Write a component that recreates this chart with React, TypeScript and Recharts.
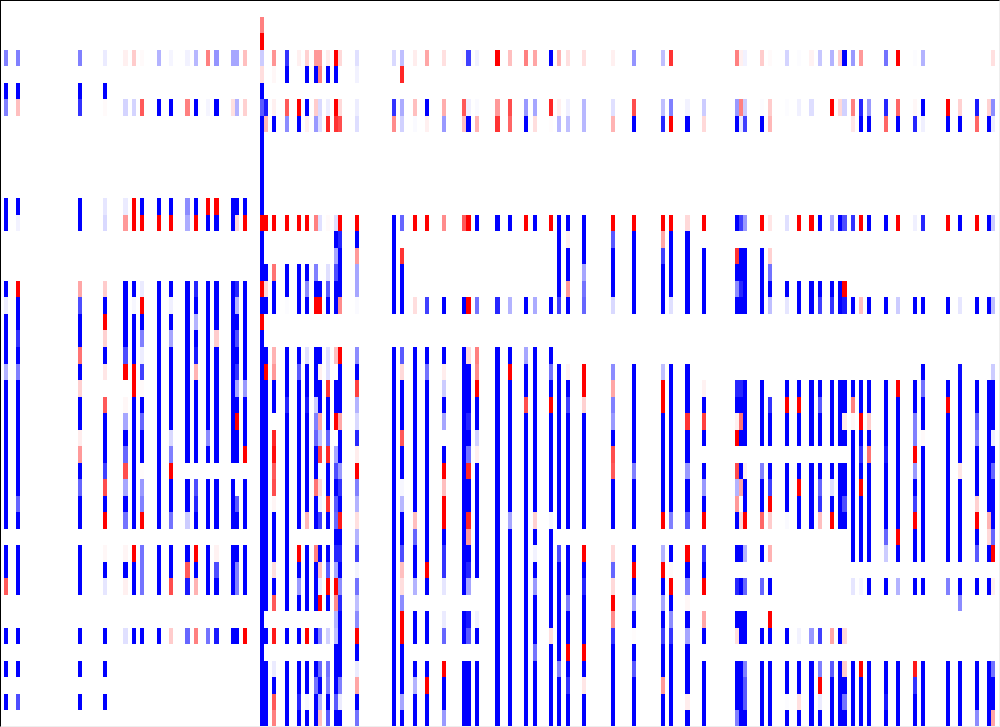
import React from 'react';
import { ScatterChart, Scatter, XAxis, YAxis } from 'recharts';

const WIDTH = 1000;
const HEIGHT = 727;
const COLUMN_COUNT = 242;
const ROW_COUNT = 44;

// each run is [first row, last row, value], value goes from -1 (blue) to 1 (red)
type Run = number[];

const c1: Run[] = [[3,3,-.5],[5,5,-1],[6,6,-.5],[12,13,-1],[17,17,-1],[18,18,-.07],[19,21,-1],[22,22,-.3],[23,31,-1],[33,34,-1],[35,35,.65],[38,38,-1],[40,40,-1],[42,42,-1]];
const c4: Run[] = [[3,3,-.5],[5,5,-1],[6,6,.25],[12,12,-1],[13,13,-.05],[17,17,1],[18,19,-1],[20,20,-.8],[21,21,-1],[22,22,-.5],[23,29,-1],[30,30,-.6],[31,31,-1],[33,35,-1],[38,38,-1],[40,40,-1],[42,42,-.7]];
const c19: Run[] = [[3,3,-.5],[5,5,-1],[6,6,-.8],[12,13,-1],[17,17,.35],[18,18,-.7],[19,20,-1],[21,21,.55],[22,22,-1],[23,23,.18],[24,25,-1],[26,26,.07],[27,27,.4],[28,28,-1],[29,29,-.6],[30,31,-1],[33,35,-1],[38,38,-1],[40,40,-1],[42,42,-1]];
const c25: Run[] = [[3,3,-.08],[5,5,-1],[6,6,.02],[12,12,-.1],[13,13,-.15],[17,17,.2],[18,18,-1],[19,19,1],[20,20,.18],[21,21,-1],[22,22,.1],[24,24,.65],[25,27,-1],[28,28,-.75],[29,29,.7],[30,30,-1],[31,31,1],[33,33,.03],[34,34,-1],[35,35,-.1],[38,38,-1],[40,40,-1],[42,42,-1]];
const c30: Run[] = [[3,3,.06],[6,6,-.17],[12,12,-.08],[13,13,.4],[17,20,-1],[21,21,-.7],[22,22,1],[24,24,.03],[25,25,-.35],[26,26,-1],[27,27,-.6],[28,28,.7],[29,29,-.35],[30,30,-1],[31,31,-.55],[33,33,.04],[34,34,-1],[35,35,.06],[38,38,-.12]];
const c32: Run[] = [[3,3,.2],[6,6,-.17],[12,13,1],[17,17,-1],[18,18,-.03],[19,21,-1],[22,23,1],[24,31,-1],[33,33,1],[34,35,-1],[38,38,-1]];
const c34: Run[] = [[3,3,.02],[6,6,.65],[12,12,-1],[13,13,1],[17,17,-.08],[18,18,1],[19,19,-1],[20,20,-.5],[21,21,-.07],[22,22,-.75],[23,23,.02],[24,24,-1],[25,25,-.6],[26,27,-1],[28,28,.01],[29,29,-.4],[30,30,-.5],[31,31,1],[33,35,-.55],[38,38,-1]];
const c38: Run[] = [[3,3,-.3],[6,6,-1],[12,12,-1],[13,13,1],[17,31,-1],[33,35,-1],[38,38,-1]];
const c41: Run[] = [[3,3,-.04],[6,6,-1],[12,12,-1],[13,13,1],[17,17,-1],[18,18,-.06],[19,19,-1],[20,20,-.35],[21,25,-1],[26,26,-.15],[27,27,-.5],[28,28,1],[29,30,-1],[31,31,-.55],[33,34,-1],[35,35,.7],[38,38,.2]];
const c45: Run[] = [[3,3,-.05],[6,6,.5],[12,12,-.45],[13,13,-.32],[17,27,-1],[29,30,-1],[31,31,-.2],[33,33,-1],[34,34,.65],[35,35,-.9],[38,38,-.6]];
const c47: Run[] = [[3,3,-.28],[6,6,-1],[12,12,-1],[13,13,1],[17,17,-.85],[18,18,-1],[19,19,-.3],[20,20,-1],[21,21,-.9],[22,22,.3],[23,27,-1],[29,29,-.7],[30,30,-.85],[31,31,-1],[33,33,1],[34,34,-1],[35,35,.3],[38,38,.5]];
const c50: Run[] = [[3,3,.5],[6,6,-.04],[12,12,1],[13,13,-1],[17,25,-1],[26,26,-.45],[27,27,-1],[29,31,-1],[33,35,-1],[38,38,-.55]];
const c52: Run[] = [[3,3,-.42],[6,6,-1],[12,12,1],[13,13,-1],[17,19,-1],[20,20,.2],[21,27,-1],[29,31,-1],[33,33,.05],[34,34,-.7],[35,35,-1],[38,38,-.9]];
const c56: Run[] = [[3,3,-.35],[6,6,.12],[12,13,-1],[17,27,-1],[29,31,-1],[33,35,-1],[38,38,-1]];
const c57: Run[] = [[3,3,-.35],[6,6,-.3],[12,12,-1],[13,13,.15],[17,17,-.85],[18,18,-.3],[19,19,-1],[20,20,-.7],[21,21,-1],[22,22,-.8],[23,23,-.35],[24,24,-1],[25,25,1],[26,27,-1],[30,30,-.65],[31,31,-1],[33,33,-1],[34,35,-.5],[38,38,-1]];
const c59: Run[] = [[3,3,.25],[6,6,.18],[12,12,-1],[13,13,1],[17,22,-1],[23,23,-.4],[24,26,-1],[27,27,1],[29,31,-1],[33,35,-1],[38,38,1]];
const c63: Run[] = [[1,1,.5],[2,2,1],[3,3,-.2],[4,4,.13],[5,5,-1],[6,6,-.65],[7,12,-1],[13,13,1],[14,16,-1],[17,17,1],[18,18,-1],[19,19,1],[20,43,-1]];
const c64: Run[] = [[6,6,-.9],[7,7,.28],[13,13,1],[16,16,-1],[17,17,.15],[18,18,-1],[21,21,-1],[22,22,1],[23,36,-1],[38,38,-1],[40,43,-1]];
const c66: Run[] = [[3,3,.42],[4,4,.03],[6,6,.06],[7,7,-1],[13,13,1],[16,16,.55],[17,18,-1],[21,21,.3],[22,22,.4],[23,24,-1],[26,26,.85],[27,27,.95],[28,28,.65],[29,29,.7],[30,30,.04],[31,33,-1],[34,34,.13],[35,35,-1],[36,36,.65],[38,38,.9],[40,40,-.08],[41,41,-1],[42,42,.65],[43,43,.5]];
const c69: Run[] = [[3,3,-.8],[4,4,-1],[6,6,.65],[7,7,-.45],[13,13,1],[16,17,-1],[18,18,-.01],[21,23,-1],[24,24,-.85],[25,36,-1],[38,38,-1],[40,43,-1]];
const c72: Run[] = [[3,3,.06],[6,6,1],[7,7,-1],[13,13,1],[16,18,-1],[21,21,-1],[22,22,-.65],[23,31,-1],[33,33,1],[34,34,-1],[35,35,-.4],[36,36,-1],[38,38,-1],[40,41,-1],[42,42,-.85],[43,43,-1]];
const c74: Run[] = [[3,3,.18],[4,4,-1],[6,6,-1],[7,7,.06],[13,13,1],[16,16,-1],[17,17,-.45],[18,18,-1],[21,21,-.12],[22,23,-1],[24,24,-.9],[25,30,-1],[31,31,.28],[33,36,-1],[38,38,1],[40,41,-1],[42,42,-.03],[43,43,-1]];
const c76: Run[] = [[3,3,.4],[4,4,-1],[6,6,.2],[7,7,-.4],[13,13,.5],[16,16,-.5],[17,17,-1],[18,18,1],[21,23,-1],[24,24,-.2],[25,25,-.5],[26,26,-.6],[27,28,-1],[29,29,.55],[30,31,-1],[33,33,.5],[34,36,-1],[38,38,-1],[40,40,-1],[41,41,-.55],[42,43,-1]];
const c77: Run[] = [[3,3,.4],[4,4,.5],[6,6,-.15],[7,7,-.12],[13,13,-.12],[17,17,-1],[18,18,1],[21,21,-1],[22,22,.06],[23,24,-1],[25,25,.35],[26,26,-.25],[27,27,.75],[28,28,.01],[29,29,.15],[30,30,-.05],[31,31,-.75],[33,33,-1],[34,34,.25],[35,35,-.08],[36,36,1],[38,38,-.5],[40,40,-.6],[41,41,-1],[42,42,-.3],[43,43,.25]];
const c79: Run[] = [[3,3,.07],[4,4,-1],[6,6,-.07],[7,7,.85],[13,13,.02],[16,16,-.12],[17,17,-.65],[18,18,-1],[21,22,-.12],[23,23,.8],[24,25,-1],[26,26,-.6],[27,27,.85],[28,29,-1],[30,30,.8],[31,31,-1],[33,33,-1],[34,34,-.65],[35,35,1],[36,36,-1],[38,38,-.18],[40,40,-.55],[41,41,-.5],[42,42,-1],[43,43,-.65]];
const c81: Run[] = [[3,3,1],[4,4,-1],[6,6,1],[7,7,.8],[13,13,-.12],[14,14,-1],[15,15,-.35],[16,16,-.7],[17,18,-1],[21,21,.25],[23,24,-1],[25,25,1],[27,27,-.35],[28,28,-.7],[29,29,-1],[30,30,-.65],[31,31,-.6],[32,32,-1],[33,33,-.85],[34,34,-.35],[35,35,1],[36,36,.45],[37,37,-.3],[38,38,-.25],[39,41,-1],[42,42,-.65],[43,43,-1]];
const c82: Run[] = [[3,3,.15],[6,6,.15],[7,7,.7],[13,13,1],[14,14,-.85],[15,17,-1],[18,18,.45],[21,21,1],[22,24,-1],[25,25,.35],[26,27,-1],[28,28,-.4],[29,29,-.8],[30,30,-1],[31,31,.9],[32,32,-1],[33,33,-.85],[34,34,-1],[35,35,-.45],[36,36,-.85],[37,40,-1],[41,41,-.5],[42,42,-.08],[43,43,-1]];
const c86: Run[] = [[3,3,-.12],[4,4,-.05],[6,6,-.07],[7,7,-.13],[13,13,1],[14,14,-1],[15,15,.4],[16,17,-.35],[18,18,-.02],[21,21,-.45],[22,22,-1],[23,23,.75],[24,24,-.3],[25,25,-.15],[26,26,-.85],[27,27,.07],[28,28,1],[29,29,-.5],[30,30,-.3],[31,31,.12],[32,32,-.3],[33,33,-.75],[34,34,-.05],[35,35,-.55],[36,36,-.25],[37,37,-.45],[38,38,1],[39,39,-1],[40,40,-.08],[41,41,.35],[42,42,-1],[43,43,-.55]];
const c95: Run[] = [[3,3,-.15],[6,6,-.8],[7,7,.45],[13,18,-1],[21,43,-1]];
const c97: Run[] = [[3,3,-.25],[4,4,.85],[6,6,-.33],[7,7,-.18],[13,13,-.6],[15,15,.8],[16,18,-1],[21,21,-.65],[22,22,.15],[23,25,-1],[26,26,.65],[27,28,-1],[29,29,-.03],[30,30,-.28],[31,32,-1],[33,33,-.7],[34,34,.25],[35,35,.13],[36,36,-.45],[37,38,1],[39,41,-1],[42,42,-.35],[43,43,-1]];
const c100: Run[] = [[3,3,.07],[6,6,.25],[7,7,-.02],[13,13,1],[18,18,.13],[21,30,-1],[31,31,.25],[32,32,-.6],[33,34,-1],[35,35,-.3],[37,38,-1],[40,40,-1],[41,41,-.3],[42,43,-1]];
const c103: Run[] = [[3,3,.35],[6,6,-1],[7,7,.06],[13,13,1],[18,18,-.75],[21,21,-1],[22,22,-.55],[23,33,-1],[34,34,1],[35,35,-1],[37,38,-1],[40,40,-1],[41,41,1],[42,43,-1]];
const c107: Run[] = [[3,3,.12],[6,6,.32],[7,7,-.4],[13,13,.45],[18,18,-1],[21,21,-1],[22,22,.07],[23,23,-.2],[24,24,-1],[25,25,-.35],[27,27,-1],[28,28,1],[29,29,.25],[30,31,1],[32,32,-1],[33,34,-.8],[35,35,-.1],[37,37,-.08],[38,38,-.6],[40,40,1],[41,42,-1],[43,43,-.4]];
const c112: Run[] = [[3,3,.02],[6,6,.65],[7,7,.25],[13,13,.65],[18,18,-1],[21,35,-1],[37,38,-1],[40,43,-1]];
const c113: Run[] = [[3,3,-.75],[6,6,-.06],[7,7,-1],[13,13,1],[18,18,1],[21,21,.15],[22,24,-1],[25,25,-.85],[26,26,-1],[27,27,-.55],[28,28,.85],[29,30,-1],[31,31,.85],[32,32,.4],[33,33,-1],[34,34,-.85],[35,35,-.35],[37,37,-.9],[38,38,-.65],[40,43,-1]];
const c115: Run[] = [[3,3,-.05],[6,6,-.02],[7,7,.3],[13,13,-1],[18,18,-.55],[21,21,.5],[22,22,.45],[23,23,1],[24,25,-1],[26,26,-.18],[27,27,.06],[28,34,-1],[37,37,-.05],[38,38,-1],[40,43,-1]];
const c120: Run[] = [[3,3,1],[6,6,.4],[7,7,.8],[13,13,-1],[18,18,-.85],[21,43,-1]];
const c123: Run[] = [[3,3,.25],[6,6,.7],[7,7,.6],[13,13,-1],[18,18,-.3],[21,21,-1],[22,22,1],[23,30,-1],[31,31,-.35],[32,43,-1]];
const c127: Run[] = [[3,3,.5],[6,6,-.4],[7,7,-1],[13,13,1],[18,18,-1],[21,21,-.35],[22,23,-1],[24,24,.7],[25,43,-1]];
const c129: Run[] = [[3,3,.35],[6,6,-.35],[7,7,.13],[13,13,-1],[18,18,-.33],[21,30,-1],[31,31,.18],[32,32,-1],[33,33,-.05],[34,34,-1],[35,35,-.4],[36,38,-1],[39,39,-.55],[40,43,-1]];
const c133: Run[] = [[3,3,-1],[6,6,.85],[7,7,.01],[13,13,1],[18,18,-1],[21,21,-1],[22,22,-.55],[23,23,-1],[24,24,1],[25,30,-1],[31,31,-.03],[32,37,-1],[38,38,.13],[39,43,-1]];
const c135: Run[] = [[3,3,.3],[6,6,.06],[7,7,-.28],[13,17,-1],[18,18,-.75],[22,31,-1],[33,33,-.7],[34,39,-1],[40,40,-.5],[41,43,-1]];
const c137: Run[] = [[3,3,.12],[6,6,-.06],[7,7,-.25],[13,13,-1],[14,14,.06],[15,16,-1],[17,17,.4],[18,18,-1],[22,22,.05],[23,23,-1],[24,24,-.75],[25,31,-1],[33,35,-1],[36,36,-.5],[37,38,-1],[39,39,1],[40,40,-1],[41,41,-.8],[42,43,-1]];
const c141: Run[] = [[3,3,.12],[6,7,-.28],[13,15,-1],[16,16,-.35],[17,17,-.55],[18,18,-.6],[22,23,1],[24,24,.18],[25,31,-1],[33,33,1],[34,34,-1],[35,35,-.85],[36,38,-1],[39,39,1],[40,40,-1],[41,41,.1],[42,43,-1]];
const c148: Run[] = [[3,3,.06],[6,6,-.12],[7,7,.3],[13,13,1],[14,14,-.65],[15,17,-1],[18,18,-.15],[22,22,-.45],[23,23,.35],[24,24,-.5],[25,25,-.4],[26,26,-1],[27,27,.7],[28,28,.65],[29,31,-1],[33,33,.15],[34,34,-.6],[35,35,.15],[36,36,1],[37,37,.45],[38,38,-.8],[39,43,-1]];
const c153: Run[] = [[3,3,-.42],[6,6,.7],[7,7,-1],[13,13,1],[14,18,-1],[22,27,-1],[28,28,-.5],[29,31,-1],[33,33,-1],[34,34,1],[35,35,-1],[36,36,-.35],[37,37,-1],[38,38,.01],[39,39,-1],[40,40,-.65],[41,43,-1]];
const c160: Run[] = [[3,3,-.25],[6,6,-.25],[7,7,-.85],[13,13,1],[14,14,.35],[15,15,-.75],[16,18,-1],[22,22,-.25],[23,24,1],[25,30,-1],[31,31,1],[33,33,-.3],[34,34,1],[35,35,-1],[36,36,-.35],[37,37,-1],[38,38,-.75],[39,40,-1],[41,41,.4],[42,43,-1]];
const c162: Run[] = [[3,3,.8],[6,6,-.5],[7,7,1],[13,13,1],[14,17,-1],[18,18,-.12],[22,30,-1],[31,31,-.5],[33,33,-1],[34,34,.02],[35,35,1],[36,36,-1],[37,37,-.45],[38,38,-.8],[39,43,-1]];
const c166: Run[] = [[6,6,-.05],[7,7,-1],[13,13,.15],[14,18,-1],[22,24,-1],[25,25,.8],[26,27,-1],[28,28,-.4],[29,30,-1],[31,31,-.65],[33,33,1],[34,34,-1],[35,35,-.5],[36,36,.03],[37,37,-1],[38,38,-.35],[39,41,-1],[42,42,.07],[43,43,-1]];
const c170: Run[] = [[6,6,-.2],[7,7,.15],[13,13,1],[15,18,-1],[23,23,.05],[24,24,-1],[25,25,.75],[26,26,-1],[28,28,-1],[29,29,-.4],[30,30,-1],[31,31,1],[33,33,-.8],[34,34,-1],[35,35,1],[37,37,.35],[38,38,-1],[40,43,-1]];
const c178: Run[] = [[3,3,.5],[6,6,-.4],[7,7,-1],[13,13,-1],[15,15,.8],[16,16,-1],[17,17,-.45],[18,18,-1],[23,23,-.85],[24,24,-1],[25,25,.06],[26,26,1],[28,28,.7],[29,29,-.3],[30,30,.4],[31,31,-1],[33,33,-1],[35,35,-.85],[37,37,-1],[38,38,.13],[40,42,-1],[43,43,-.5]];
const c179: Run[] = [[3,3,.06],[6,6,.5],[7,7,-.08],[13,13,-.75],[15,16,-1],[17,17,-.85],[18,18,-1],[23,23,-.85],[24,24,-1],[25,25,.55],[26,26,-1],[28,28,-1],[29,29,.35],[31,31,.15],[33,33,-1],[35,35,-1],[37,38,-1],[40,43,-1]];
const c180: Run[] = [[3,3,-.05],[6,6,-.2],[7,7,-.75],[13,13,-.4],[15,18,-1],[23,26,-1],[28,28,.06],[29,30,-1],[31,31,1],[33,33,-.3],[35,35,-.6],[37,38,-1],[40,40,-.5],[41,42,-.65],[43,43,-1]];
const c184: Run[] = [[3,3,.2],[6,6,-.01],[7,7,-1],[13,13,1],[15,18,-1],[23,26,-1],[28,28,-.5],[29,30,-1],[31,31,.6],[33,33,-1],[35,35,-.6],[38,38,-1],[40,43,-1]];
const c186: Run[] = [[3,3,.02],[6,6,.2],[7,7,.28],[13,13,.1],[15,15,.18],[16,16,-.55],[17,17,-1],[18,18,-.25],[24,24,-.8],[25,26,-1],[28,28,-1],[29,29,-.75],[30,30,1],[31,31,.2],[33,33,.3],[35,35,-1],[37,37,1],[38,38,-1],[40,43,-1]];
const c190: Run[] = [[3,3,-.17],[6,6,-.01],[13,13,-.12],[17,17,-1],[18,18,-.1],[23,23,-1],[24,24,1],[25,26,-1],[28,30,-1],[31,31,-.02],[38,38,-1],[40,41,-1],[42,42,-.01],[43,43,-1]];
const c193: Run[] = [[3,3,-.01],[6,6,-.06],[13,13,1],[17,18,-1],[23,23,-1],[24,24,1],[25,26,-1],[28,28,-1],[29,29,1],[30,31,-1],[38,38,-.05],[40,41,-1],[42,42,.12],[43,43,-1]];
const c196: Run[] = [[3,3,.05],[6,6,-.13],[13,13,1],[17,18,-1],[23,26,-1],[28,31,-1],[38,38,-.4],[40,43,-1]];
const c198: Run[] = [[3,3,-.22],[13,13,-1],[17,17,-1],[18,18,-.75],[23,23,-1],[24,24,-.65],[25,26,-1],[28,28,-1],[29,29,-.6],[30,30,-.8],[31,31,.25],[38,38,-.75],[40,40,-.5],[41,41,1],[42,42,-.08],[43,43,-1]];
const c201: Run[] = [[3,3,-.3],[6,6,1],[13,13,-.33],[17,17,-1],[18,18,-.8],[23,26,-1],[28,28,-1],[29,29,-.12],[30,30,-1],[31,31,1],[38,38,.35],[40,40,-.65],[41,43,-1]];
const c203: Run[] = [[3,3,.2],[6,6,.15],[13,13,-1],[17,18,-1],[23,26,-1],[28,31,-1],[38,38,-1],[40,43,-1]];
const c204: Run[] = [[3,3,-1],[6,6,-.18],[13,13,-.7],[17,17,1],[18,18,-.9],[23,24,-1],[25,25,.08],[26,26,-1],[28,29,-1],[30,30,-.7],[31,31,-1],[38,38,.15],[40,40,.2],[41,41,-1],[42,42,-.55],[43,43,-1]];
const c206: Run[] = [[3,3,-.4],[6,6,.5],[7,7,.1],[13,13,-.8],[18,18,-1],[23,23,-1],[24,24,.5],[25,25,.03],[26,33,-1],[35,35,-.1],[40,43,-1]];
const c208: Run[] = [[3,3,.4],[6,6,-.85],[7,7,-1],[13,13,1],[18,18,.25],[23,24,-1],[25,25,1],[26,26,-1],[27,27,-.8],[28,28,-1],[29,29,1],[30,33,-1],[35,35,-.04],[40,40,1],[41,43,-1]];
const c210: Run[] = [[6,6,-.4],[7,7,-1],[13,13,-1],[18,18,-1],[23,24,-1],[25,25,.2],[26,26,-1],[27,27,.55],[28,33,-1],[35,35,-1],[40,43,-1]];
const c214: Run[] = [[3,3,-.55],[6,6,-.85],[7,7,.6],[13,13,-1],[18,18,-1],[23,26,-1],[27,27,-.9],[28,31,-1],[32,32,-.6],[33,33,-.2],[35,35,-1],[40,41,-1],[42,42,-.9],[43,43,-1]];
const c217: Run[] = [[3,3,1],[6,6,.6],[7,7,-1],[13,13,1],[18,18,-.2],[23,23,1],[24,31,-1],[32,32,1],[33,33,-1],[35,35,-.3],[40,43,-1]];
const c221: Run[] = [[3,3,-.01],[6,6,.03],[7,7,-.85],[13,13,-.06],[18,18,-1],[23,24,-1],[25,26,-.5],[27,27,1],[28,28,-.4],[29,29,-1],[30,30,-.75],[31,31,1],[32,33,-1],[35,35,-1],[40,40,.9],[41,41,-.8],[42,43,-1]];
const c223: Run[] = [[3,3,-.3],[6,6,-1],[7,7,-.06],[13,13,-.85],[18,18,-1],[22,22,-1],[23,23,-.55],[24,25,-1],[26,26,.02],[27,33,-1],[35,35,-1],[40,43,-1]];
const c229: Run[] = [[6,6,1],[7,7,-1],[13,13,1],[18,18,-1],[23,23,-1],[24,24,1],[25,33,-1],[35,35,-.5],[40,43,-1]];
const c232: Run[] = [[6,6,.18],[7,7,-1],[13,13,-1],[18,18,-.1],[22,22,-.95],[23,27,-1],[28,28,.1],[29,33,-1],[35,35,-1],[36,36,-.45],[40,43,-1]];
const c236: Run[] = [[6,6,-.9],[7,7,.6],[13,13,1],[18,18,-1],[23,24,-1],[25,25,-.6],[26,26,-.5],[27,29,-1],[30,30,.18],[31,31,1],[32,32,-1],[33,33,-.65],[35,35,-1],[40,42,-1],[43,43,-.45]];
const c239: Run[] = [[6,6,.18],[7,7,-1],[13,13,-1],[18,18,-1],[23,30,-1],[31,31,.3],[32,32,.15],[33,33,-1],[35,35,-1],[40,43,-1]];
const c240: Run[] = [[3,3,.12],[6,6,-.45],[7,7,-.07],[13,13,-.2],[18,18,-.25],[22,22,-.2],[23,25,-1],[26,26,-.07],[27,27,-1],[28,28,-.6],[29,31,-1],[32,32,-.6],[33,33,1],[35,35,.06],[40,40,-.55],[41,42,-1],[43,43,.35]];

const columnIndex = [1,4,19,25,30,32,34,38,41,45,47,50,52,56,57,59,63,64,66,69,72,74,76,77,79,81,82,86,95,97,100,103,107,112,113,115,120,123,127,129,133,135,137,141,148,153,160,162,166,170,178,179,180,184,186,190,193,196,198,201,203,204,206,208,210,214,217,221,223,229,232,236,239,240];
const columnRuns = [c1,c4,c19,c25,c30,c32,c34,c38,c41,c45,c47,c50,c52,c56,c57,c59,c63,c64,c66,c69,c72,c74,c76,c77,c79,c81,c82,c86,c95,c97,c100,c103,c107,c112,c113,c115,c120,c123,c127,c129,c133,c135,c137,c141,c148,c153,c160,c162,c166,c170,c178,c179,c180,c184,c186,c190,c193,c196,c198,c201,c203,c204,c206,c208,c210,c214,c217,c221,c223,c229,c232,c236,c239,c240];

const cells = columnRuns.flatMap((runs, i) =>
  runs.flatMap(([from, to, value]) => {
    const out = [];
    for (let row = from; row <= to; row++) {
      out.push({ x: columnIndex[i] + 0.5, y: row + 0.5, value });
    }
    return out;
  })
);

// white in the middle, pure blue / pure red at the ends
function cellColor(value: number) {
  const fade = Math.round(255 * (1 - Math.abs(value)));
  return value < 0 ? `rgb(${fade},${fade},255)` : `rgb(255,${fade},${fade})`;
}

function HeatCell(props: any) {
  const { cx, cy, payload } = props;
  const w = WIDTH / COLUMN_COUNT;
  const h = HEIGHT / ROW_COUNT;
  // the original snaps cell edges down to whole pixels, so some columns come out 5px wide
  const left = Math.floor(cx - w / 2);
  const right = Math.floor(cx + w / 2);
  return (
    <rect
      x={left}
      y={cy - h / 2}
      width={right - left}
      height={h}
      fill={cellColor(payload.value)}
      shapeRendering="crispEdges"
    />
  );
}

export default function App() {
  return (
    <div style={{ position: 'fixed', left: 0, top: 0, width: WIDTH, height: HEIGHT, background: '#fff' }}>
      <ScatterChart width={WIDTH} height={HEIGHT} margin={{ top: 0, right: 0, bottom: 0, left: 0 }}>
        <XAxis type="number" dataKey="x" domain={[0, COLUMN_COUNT]} hide />
        <YAxis type="number" dataKey="y" domain={[0, ROW_COUNT]} reversed hide />
        <Scatter data={cells} shape={<HeatCell />} isAnimationActive={false} />
      </ScatterChart>
      {/* frame of the original plot: dark on top and left, faint on the other two */}
      <div
        style={{
          position: 'absolute',
          inset: 0,
          boxSizing: 'border-box',
          borderTop: '1px solid #000',
          borderLeft: '1px solid #000',
          borderRight: '1px solid #eee',
          borderBottom: '1px solid #eee',
          pointerEvents: 'none',
        }}
      />
    </div>
  );
}
